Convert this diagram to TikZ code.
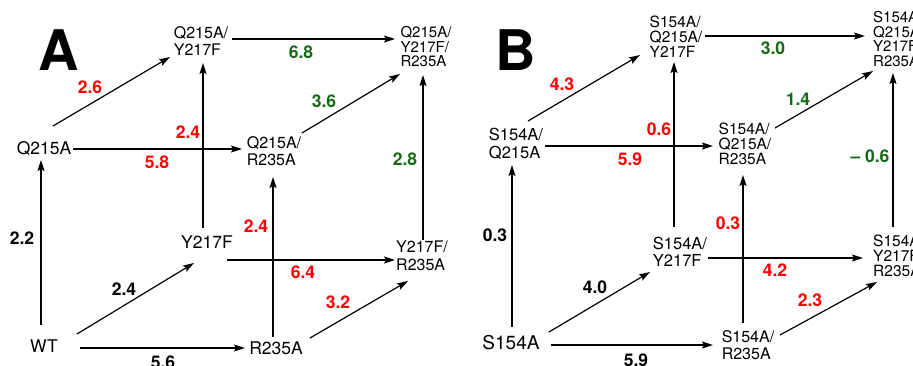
\documentclass[tikz,border=0pt]{standalone}
\usepackage{fontspec}
\setmainfont{TeX Gyre Heros}
\usepackage{tikz}
\usetikzlibrary{calc}
\usetikzlibrary{arrows.meta}

\definecolor{hotred}{RGB}{255,0,0}
\definecolor{dgreen}{RGB}{20,105,20}

\tikzset{
  mut/.style 2 args={inner sep=0pt, align=left, font=\fontsize{#1}{#2}\selectfont},
  ddg/.style={inner sep=0pt, font=\fontsize{17.5}{17.5}\selectfont\bfseries},
  arr/.style={line width=1.2pt, -{Stealth[length=11pt,width=7pt,inset=2pt]}},
  panel/.style={inner sep=0pt, font=\fontsize{56}{56}\selectfont\bfseries},
}

\begin{document}
\begin{tikzpicture}[x=1pt,y=-1pt]
		\useasboundingbox (0,0) rectangle (913,366);

		% panel A
		\node[panel] (pa) at (59,50) {A};

		\node[mut={17.5}{17.5}] (wt) at (44,346) {WT};
		\node[mut={17.5}{17.5}] (qa) at (44,148) {Q215A};
		\node[mut={17.5}{17.5}] (ya) at (207,242) {Y217F};
		\node[mut={17.5}{17.5}] (ra) at (276,348) {R235A};
		\node[mut={16}{17.5}] (qya) at (201,41) {Q215A/\\Y217F};
		\node[mut={16}{17.5}] (qra) at (274,151) {Q215A/\\R235A};
		\node[mut={16}{17.5}] (yra) at (422,256) {Y217F/\\R235A};
		\node[mut={15}{14.5}] (qyra) at (426,47) {Q215A/\\Y217F/\\R235A};

		\draw[arr] ($(wt)+(36,2)$) -- ($(ra)+(-31,0)$);
		\draw[arr] ($(wt)+(33,-12)$) -- ($(ya)+(-13,21)$);
		\draw[arr] ($(wt)+(-3,-21)$) -- ($(qa)+(-3,12)$);
		\draw[arr] ($(ya)+(20,18)$) -- ($(yra)+(-27,4)$);
		\draw[arr] ($(ra)+(34,-10)$) -- ($(yra)+(-14,25)$);
		\draw[arr] ($(ra)+(-3,-11)$) -- ($(qra)+(-1,26)$);
		\draw[arr] ($(ya)+(-4,-14)$) -- ($(qya)+(2,22)$);
		\draw[arr] ($(qa)+(29,1)$) -- ($(qra)+(-32,-2)$);
		\draw[arr] ($(qa)+(9,-22)$) -- ($(qya)+(-31,16)$);
		\draw[arr] ($(qya)+(31,-2)$) -- ($(qyra)+(-31,-8)$);
		\draw[arr] ($(qra)+(28,-18)$) -- ($(qyra)+(-26,27)$);
		\draw[arr] ($(yra)+(1,-16)$) -- ($(qyra)+(-3,28)$);

		\node[ddg] (wtra) at (163,362) {5.6};
		\node[ddg] (wtya) at (124,289) {2.4};
		\node[ddg] (wtqa) at (22,238) {2.2};
		\node[ddg, hotred] (yayra) at (303,272) {6.4};
		\node[ddg, hotred] (rayra) at (338,302) {3.2};
		\node[ddg, hotred] (raqra) at (256,226) {2.4};
		\node[ddg, hotred] (yaqya) at (188,132) {2.4};
		\node[ddg, hotred] (qaqra) at (157,162) {5.8};
		\node[ddg, hotred] (qaqya) at (90,87) {2.6};
		\node[ddg, dgreen] (qyaall) at (301,52) {6.8};
		\node[ddg, dgreen] (qraall) at (324,101) {3.6};
		\node[ddg, dgreen] (yraall) at (405,159) {2.8};

		% panel B
		\node[panel] (pb) at (516,50) {B};

		\node[mut={19}{19}] (sb) at (511,343) {S154A};
		\node[mut={16.5}{17.5}] (sqb) at (516,144) {S154A/\\Q215A};
		\node[mut={16.5}{17.5}] (syb) at (680,252) {S154A/\\Y217F};
		\node[mut={16}{17}] (srb) at (748,345) {S154A/\\R235A};
		\node[mut={15.5}{15}] (sqyb) at (676,37) {S154A/\\Q215A/\\Y217F};
		\node[mut={15.5}{15}] (sqrb) at (745,144) {S154A/\\Q215A/\\R235A};
		\node[mut={15.5}{15}, anchor=west] (syrb) at (873,256) {S154A/\\Y217F/\\R235A};
		\node[mut={15}{14.7}, anchor=west] (sqyrb) at (873,39) {S154A/\\Q215A/\\Y217F/\\R235A};

		\draw[arr] ($(sb)+(40,2)$) -- ($(srb)+(-35,0)$);
		\draw[arr] ($(sb)+(38,-11)$) -- ($(syb)+(-30,20)$);
		\draw[arr] ($(sb)+(1,-16)$) -- ($(sqb)+(-4,21)$);
		\draw[arr] ($(syb)+(28,6)$) -- ($(syrb.west)+(-10,2)$);
		\draw[arr] ($(srb)+(32,-10)$) -- ($(syrb.west)+(4,26)$);
		\draw[arr] ($(srb)+(-5,-22)$) -- ($(sqrb)+(-2,31)$);
		\draw[arr] ($(syb)+(-6,-25)$) -- ($(sqyb)+(-2,25)$);
		\draw[arr] ($(sqb)+(29,2)$) -- ($(sqrb)+(-32,2)$);
		\draw[arr] ($(sqb)+(12,-23)$) -- ($(sqyb)+(-36,18)$);
		\draw[arr] ($(sqyb)+(29,-1)$) -- ($(sqyrb.west)+(-8,-3)$);
		\draw[arr] ($(sqrb)+(30,-16)$) -- ($(sqyrb.west)+(0,32)$);
		\draw[arr] ($(syrb.west)+(20,-29)$) -- ($(sqyrb.west)+(20,34)$);

		\node[ddg] (sbsrb) at (636,360) {5.9};
		\node[ddg] (sbsyb) at (595,287) {4.0};
		\node[ddg] (sbsqb) at (495,235) {0.3};
		\node[ddg, hotred] (sybsyrb) at (775,270) {4.2};
		\node[ddg, hotred] (srbsyrb) at (810,300) {2.3};
		\node[ddg, hotred] (srbsqrb) at (728,223) {0.3};
		\node[ddg, hotred] (sybsqyb) at (659,129) {0.6};
		\node[ddg, hotred] (sqbsqrb) at (630,159) {5.9};
		\node[ddg, hotred] (sqbsqyb) at (562,84) {4.3};
		\node[ddg, dgreen] (sqyball) at (773,48) {3.0};
		\node[ddg, dgreen] (sqrball) at (798,99) {1.4};
		\node[ddg, dgreen] (syrball) at (870,156) {-- 0.6};
    \end{tikzpicture}
\end{document}
